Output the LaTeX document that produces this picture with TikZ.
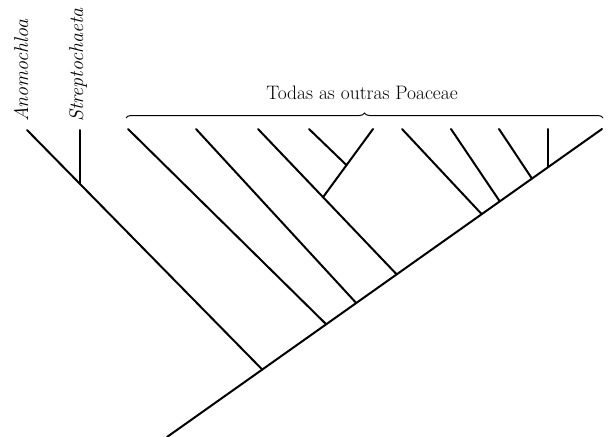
\documentclass[tikz,border=0pt]{standalone}
\usepackage{tikz}
\usetikzlibrary{calc, positioning, decorations.pathreplacing}

\tikzset{
  branch/.style={line width=2pt, line cap=round},
  taxon/.style={rotate=90, anchor=base west, inner sep=0pt,
                font=\fontsize{20}{24}\selectfont\itshape},
  grouplabel/.style={inner sep=0pt, font=\fontsize{19.5}{23}\selectfont},
  groupbrace/.style={line width=1pt, decorate,
                     decoration={brace, amplitude=5pt}}
}

\begin{document}
\begin{tikzpicture}[x=1pt, y=-1pt]
\useasboundingbox (0,0) rectangle (609,436);

% spine of the tree
\coordinate (root) at (167,437);
\coordinate (top)  at (602,129);

% junctions along the spine
\coordinate (jA) at ($(root)!0.219!(top)$);
\coordinate (j1) at ($(root)!0.366!(top)$);
\coordinate (j2) at ($(root)!0.435!(top)$);
\coordinate (j3) at ($(root)!0.528!(top)$);
\coordinate (j4) at ($(root)!0.7235!(top)$);
\coordinate (j5) at ($(root)!0.765!(top)$);
\coordinate (j6) at ($(root)!0.839!(top)$);
\coordinate (j7) at ($(root)!0.876!(top)$);

% tips
\coordinate (tipA) at (27,130);
\coordinate (tipS) at (80,130);
\coordinate (t1) at (128,129);
\coordinate (t2) at (196,129);
\coordinate (t3) at (258,129);
\coordinate (t4) at (309,129);
\coordinate (t5) at (373,129);
\coordinate (t6) at (402,129);
\coordinate (t7) at (451,129);
\coordinate (t8) at (499,129);
\coordinate (t9) at (j7|-t8);

% inner nodes off the spine
\coordinate (jS) at ($(jA)!0.775!(tipA)$);
\coordinate (k1) at ($(j3)!0.531!(t3)$);
\coordinate (k2) at ($(k1)!0.47!(t5)$);

\draw[branch] (root) -- (top);
\draw[branch] (jA) -- (tipA);
\draw[branch] (jS) -- (jS|-tipS);
\draw[branch] (j1) -- (t1);
\draw[branch] (j2) -- (t2);
\draw[branch] (j3) -- (t3);
\draw[branch] (k1) -- (t5);
\draw[branch] (k2) -- (t4);
\draw[branch] (j4) -- (t6);
\draw[branch] (j5) -- (t7);
\draw[branch] (j6) -- (t8);
\draw[branch] (j7) -- (t9);

% labels
\node[taxon] (anomo)  at ([xshift=1pt, yshift=8pt]tipA) {Anomochloa};
\node[taxon] (strepto) at ([xshift=3pt, yshift=8pt]tipS) {Streptochaeta};

\coordinate (bl) at (126,118);
\coordinate (br) at (603,118);
\draw[groupbrace] (bl) -- (br);
\node[grouplabel, anchor=base] (others) at (362,99) {Todas as outras Poaceae};
\end{tikzpicture}
\end{document}
